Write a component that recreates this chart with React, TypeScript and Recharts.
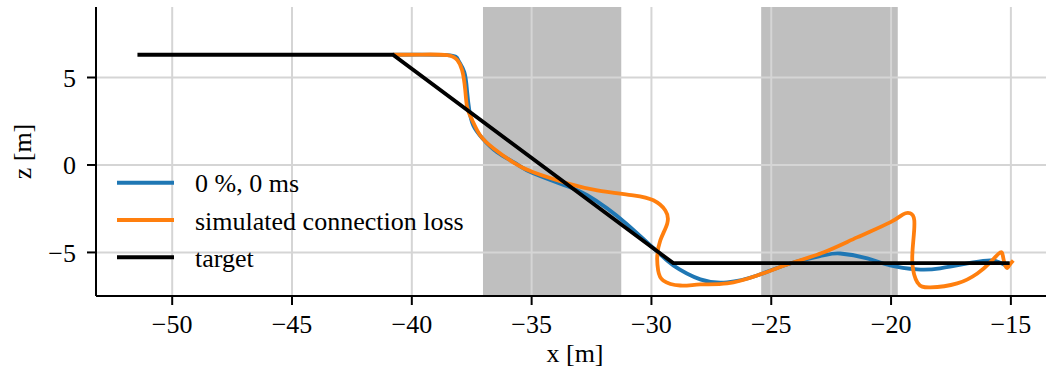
import React from 'react';
import { ComposedChart, Line, Area, XAxis, YAxis, Legend } from 'recharts';

const xTicks = [-50, -45, -40, -35, -30, -25, -20, -15];
const yTicks = [-5, 0, 5];
const xDomain: [number, number] = [-53.18, -13.2];
const yDomain: [number, number] = [-7.49, 9.03];

const shadeRanges: [number, number][] = [
  [-37.03, -31.26],
  [-25.42, -19.72],
];

const blueX = [-40.79, -38.52, -38.06, -37.81, -37.69, -37.6, -37.44, -37.06, -36.44, -35.68, -34.93, -33.51, -32.68, -31.85, -31.01, -30.18, -29.63, -29.09, -27.96, -26.84, -25.59, -24.21, -22.83, -22.12, -20.99, -20.04, -18.9, -17.95, -16.57, -15.74, -15.15];
const blueZ = [6.3, 6.28, 5.99, 5.31, 4.16, 3.13, 2.27, 1.53, 0.73, 0.1, -0.48, -1.22, -1.73, -2.48, -3.4, -4.43, -5.11, -5.74, -6.54, -6.71, -6.32, -5.63, -5.17, -5.06, -5.34, -5.74, -5.97, -5.91, -5.57, -5.46, -5.8];

const orangeX = [-40.79, -39.66, -38.52, -38.1, -37.9, -37.77, -37.69, -37.48, -37.15, -36.6, -35.77, -34.93, -33.51, -32.26, -30.76, -29.92, -29.42, -29.34, -29.63, -29.76, -29.72, -29.51, -28.8, -27.96, -26.84, -25.59, -24.21, -22.83, -21.42, -20.04, -19.5, -19.2, -19.03, -19.07, -19.11, -18.9, -18.36, -17.24, -16.4, -15.86, -15.44, -15.32, -15.19, -15.07, -14.9];
const orangeZ = [6.3, 6.31, 6.28, 5.99, 5.42, 4.28, 3.3, 2.56, 1.7, 0.96, 0.15, -0.42, -1.05, -1.45, -1.74, -2.02, -2.6, -3.34, -4.31, -5.29, -6.03, -6.6, -6.89, -6.83, -6.77, -6.32, -5.63, -5.0, -4.14, -3.28, -2.82, -2.76, -3.17, -4.31, -5.63, -6.72, -7.0, -6.77, -6.2, -5.57, -5.0, -5.29, -5.86, -5.74, -5.46];

const targetX = [-51.45, -40.79, -29.09, -15.05];
const targetZ = [6.3, 6.3, -5.61, -5.61];

const seriesNames = ['0 %, 0 ms', 'simulated connection loss', 'target'];
const seriesColors = ['#1f77b4', '#ff7f0e', '#000000'];

const zip = (xs: number[], zs: number[]) => xs.map((x, i) => ({ x, y: zs[i] }));

const blueData = zip(blueX, blueZ);
const orangeData = zip(orangeX, orangeZ);
const targetData = zip(targetX, targetZ);

const FONT = '"Liberation Serif", "Times New Roman", Times, serif';
const GRID = '#d5d5d5';
const fmt = (v: number) => String(v).replace('-', '\u2212');
const tickStyle = { fill: '#000', fontSize: 26, fontFamily: FONT, style: { fontFamily: FONT } };

const renderLegend = () => (
  <svg width={420} height={120} style={{ display: 'block', fontFamily: FONT }}>
    {seriesNames.map((name, i) => {
      const y = 22.7 + i * 37.3;
      return (
        <g key={name}>
          <line x1={17} x2={74} y1={y} y2={y} stroke={seriesColors[i]} strokeWidth={4} />
          <text x={95} y={y + 9.5} fontFamily={FONT} style={{ fontFamily: FONT }} fontSize={26} fill="#000">
            {name}
          </text>
        </g>
      );
    })}
  </svg>
);

export default function App() {
  return (
    <div style={{ position: 'absolute', left: 0, top: 0, width: 1046, height: 371, overflow: 'hidden', background: '#fff', fontFamily: FONT }}>
      <ComposedChart width={1070} height={371} margin={{ top: 7, right: 16, left: 0, bottom: 0 }} style={{ fontFamily: FONT }}>
        <XAxis
          type="number"
          dataKey="x"
          domain={xDomain}
          ticks={xTicks}
          allowDataOverflow
          height={75}
          tickFormatter={fmt}
          tick={tickStyle}
          tickSize={9}
          tickMargin={10}
          tickLine={{ stroke: '#000', strokeWidth: 2 }}
          axisLine={{ stroke: '#000', strokeWidth: 2 }}
          label={{
            content: (props: any) => {
              const vb = props.viewBox || { x: 96, width: 958 };
              return (
                <text x={vb.x + vb.width / 2} y={362} textAnchor="middle" fontFamily={FONT} style={{ fontFamily: FONT }} fontSize={26} fill="#000">
                  x [m]
                </text>
              );
            },
          }}
        />
        <XAxis
          xAxisId="top"
          orientation="top"
          type="number"
          domain={xDomain}
          allowDataOverflow
          height={0}
          tick={false}
          tickLine={false}
          axisLine={{ stroke: '#000', strokeWidth: 2 }}
        />
        <YAxis
          type="number"
          domain={yDomain}
          ticks={yTicks}
          allowDataOverflow
          width={96}
          tickFormatter={fmt}
          tick={tickStyle}
          tickSize={9}
          tickMargin={11}
          tickLine={{ stroke: '#000', strokeWidth: 2 }}
          axisLine={{ stroke: '#000', strokeWidth: 2 }}
          label={{
            content: () => (
              <text
                x={22}
                y={151.5}
                transform="rotate(-90 22 151.5)"
                textAnchor="middle"
                dominantBaseline="central"
                fontFamily={FONT}
                style={{ fontFamily: FONT }}
                fontSize={26}
                fill="#000"
              >
                z [m]
              </text>
            ),
          }}
        />
        <YAxis
          yAxisId="right"
          orientation="right"
          type="number"
          domain={yDomain}
          allowDataOverflow
          width={0}
          tick={false}
          tickLine={false}
          axisLine={{ stroke: '#000', strokeWidth: 2 }}
        />
        {shadeRanges.map(([a, b], i) => (
          <Area
            key={`shade-${i}`}
            data={[{ x: a, y: yDomain[1] }, { x: b, y: yDomain[1] }]}
            dataKey="y"
            type="linear"
            baseValue={yDomain[0]}
            stroke="none"
            fill="#bfbfbf"
            fillOpacity={1}
            isAnimationActive={false}
            legendType="none"
            activeDot={false}
          />
        ))}
        {xTicks.map((t) => (
          <Line
            key={`gx-${t}`}
            data={[{ x: t, y: yDomain[0] }, { x: t, y: yDomain[1] }]}
            dataKey="y"
            type="linear"
            stroke={GRID}
            strokeWidth={2}
            dot={false}
            activeDot={false}
            legendType="none"
            isAnimationActive={false}
          />
        ))}
        {yTicks.map((t) => (
          <Line
            key={`gy-${t}`}
            data={[{ x: xDomain[0], y: t }, { x: xDomain[1], y: t }]}
            dataKey="y"
            type="linear"
            stroke={GRID}
            strokeWidth={2}
            dot={false}
            activeDot={false}
            legendType="none"
            isAnimationActive={false}
          />
        ))}
        <Line data={blueData} dataKey="y" name={seriesNames[0]} type="natural" stroke={seriesColors[0]} strokeWidth={3.8} dot={false} activeDot={false} isAnimationActive={false} />
        <Line data={orangeData} dataKey="y" name={seriesNames[1]} type="natural" stroke={seriesColors[1]} strokeWidth={3.8} dot={false} activeDot={false} isAnimationActive={false} />
        <Line data={targetData} dataKey="y" name={seriesNames[2]} type="linear" stroke={seriesColors[2]} strokeWidth={3.8} dot={false} activeDot={false} isAnimationActive={false} />
        <Legend
          layout="vertical"
          align="center"
          verticalAlign="middle"
          wrapperStyle={{ position: 'absolute', left: 100, top: 160, width: 420, height: 120 }}
          content={renderLegend}
        />
      </ComposedChart>
    </div>
  );
}
